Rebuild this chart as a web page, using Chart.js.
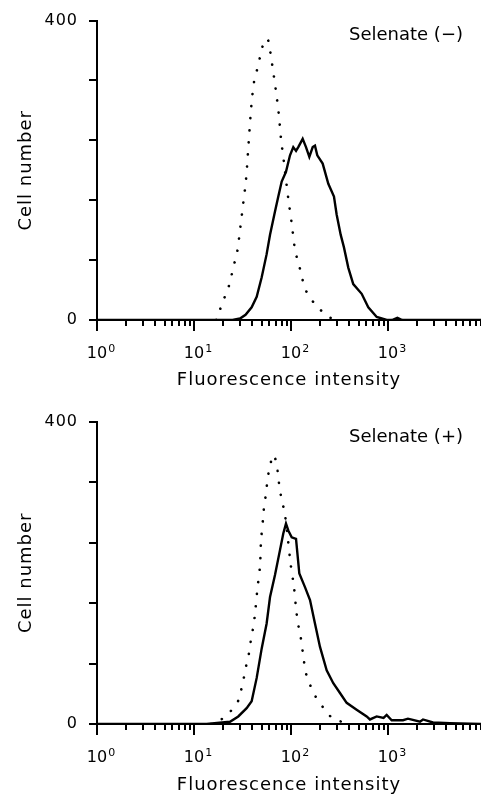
<!DOCTYPE html>
<html>
<head>
<meta charset="utf-8">
<script src="https://cdn.jsdelivr.net/npm/chart.js@4"></script>
<style>
    body { margin: 0; background: #fff; }
    canvas { display: block; }
</style>
</head>
<body>
<canvas id="selenateMinus" width="481" height="401"></canvas>
<canvas id="selenatePlus" width="481" height="401"></canvas>
<script>
// Flow cytometry histograms.
// Dotted = control, solid = stained cells.

// Selenate (-)
const minusControlX = [17, 18.2, 20.2, 22.6, 24.3, 26.0, 27.9, 30.0, 32.2, 34.4, 36.6, 39.0, 41.6, 44.6, 47.9, 51.4, 57.0, 61.2, 64.2, 69.6, 74.7, 78.8, 84.7, 93.8, 101.7, 109.1, 116.1, 125.9, 135.2, 150.8, 186.7, 233, 280];
const minusControlY = [0, 11, 27, 43, 59, 75, 91, 123, 156, 188, 237, 286, 318, 334, 351, 367, 376, 358, 340, 308, 276, 243, 210, 162, 129, 97, 81, 65, 48, 33, 18, 6, 0];

const minusStainedX = [1, 25, 29.8, 34, 39.3, 44.3, 49.9, 56.1, 60.8, 68.4, 74.0, 80.2, 88.8, 97.7, 105.6, 112.7, 118.9, 132.0, 142.8, 154.6, 167.5, 176.7, 186.7, 212.2, 242.6, 277.5, 295.6, 325.2, 351.6, 389.6, 438.5, 535.7, 626.6, 765.6, 970, 1100, 1250, 1400, 9100];
const minusStainedY = [0, 0, 2, 7, 17, 31, 57, 88, 114, 145, 165, 185, 198, 220, 231, 226, 231, 242, 231, 218, 231, 233, 220, 209, 182, 165, 141, 114, 97, 70, 48, 35, 17, 4, 0, 0, 3, 0, 0];

// Selenate (+)
const plusControlX = [15, 17.7, 23.9, 28.9, 31.0, 33.0, 34.9, 37.2, 38.7, 40.8, 42.5, 44.9, 47.9, 49.1, 51.8, 53.1, 55.6, 57.0, 60.3, 65.7, 71.2, 74.0, 77.0, 81.4, 86, 92, 99.3, 107.4, 113.4, 118.1, 125.9, 136.1, 142.8, 157.1, 179.8, 220.3, 277.5, 375, 420];
const plusControlY = [0, 3, 17, 32, 48, 64, 80, 96, 112, 128, 145, 177, 209, 242, 275, 291, 306, 322, 339, 356, 344, 326, 309, 293, 280, 250, 211, 181, 150, 133, 115, 83, 67, 52, 36, 20, 6, 2, 0];

const plusStainedX = [1, 13.5, 23.5, 28.6, 34.9, 39.3, 44.3, 49.9, 56.1, 60.8, 68.4, 77.0, 83.3, 88.8, 93.8, 101.7, 112.7, 121.9, 139.4, 157.1, 176.7, 199.1, 233.3, 273, 320, 375, 475, 603, 652, 765, 900, 970, 1092, 1429, 1607, 2138, 2296, 2911, 4355, 9100];
const plusStainedY = [0, 0, 3, 10, 21, 30, 61, 100, 133, 168, 197, 230, 252, 265, 256, 247, 245, 199, 181, 164, 133, 102, 71, 54, 41, 28, 19, 10, 6, 10, 8, 12, 5, 5, 7, 3, 6, 2, 1, 0];

// axes
const decades = [1, 10, 100, 1000];
const decadeExponents = ['0', '1', '2', '3'];
const minorSteps = [1, 2, 3, 4, 5, 6, 7, 8, 9];
const yLabelled = [0, 400];

const ink = '#000';
const fontFamily = '"DejaVu Sans", sans-serif';

const xTicks = [];
decades.forEach(d => minorSteps.forEach(m => xTicks.push(d * m)));

// the printed figure uses loosely tracked type
const tracking = {
    id: 'tracking',
    beforeDraw(chart, args, opts) {
        chart.ctx.letterSpacing = opts.spacing;
    },
    afterDraw(chart) {
        chart.ctx.letterSpacing = '0px';
    }
};

// tick marks on the log axis (long at decades, short in between)
// and the 10^n labels with a raised exponent
const logAxisMarks = {
    id: 'logAxisMarks',
    afterDraw(chart, args, opts) {
        const scale = chart.scales.x;
        const ctx = chart.ctx;
        ctx.save();
        ctx.letterSpacing = '0px';
        ctx.strokeStyle = opts.color;
        ctx.lineWidth = opts.width;
        scale.ticks.forEach(t => {
            const px = Math.round(scale.getPixelForValue(t.value));
            ctx.beginPath();
            ctx.moveTo(px, scale.top);
            ctx.lineTo(px, scale.top + (t.major ? opts.majorLength : opts.minorLength));
            ctx.stroke();
        });

        ctx.fillStyle = opts.color;
        ctx.textBaseline = 'alphabetic';
        decades.forEach((d, i) => {
            const px = scale.getPixelForValue(d);
            const base = scale.top + opts.baseline;
            ctx.font = opts.size + 'px ' + fontFamily;
            ctx.textAlign = 'center';
            ctx.fillText('10', px, base);
            const half = ctx.measureText('10').width / 2;
            ctx.font = opts.supSize + 'px ' + fontFamily;
            ctx.textAlign = 'left';
            ctx.fillText(decadeExponents[i], px + half + 1, base - opts.supRaise);
        });
        ctx.restore();
    }
};

const cornerLabel = {
    id: 'cornerLabel',
    afterDraw(chart, args, opts) {
        const ctx = chart.ctx;
        ctx.save();
        ctx.letterSpacing = '0px';
        ctx.font = opts.font;
        ctx.fillStyle = opts.color;
        ctx.textAlign = 'right';
        ctx.textBaseline = 'middle';
        ctx.fillText(opts.text, opts.x, opts.y);
        ctx.restore();
    }
};

const toPoints = (xs, ys) => xs.map((x, i) => ({ x, y: ys[i] }));

function histogram(canvasId, label, control, stained, layout) {
    new Chart(document.getElementById(canvasId), {
        type: 'line',
        plugins: [ tracking, logAxisMarks, cornerLabel ],
        data: {
            datasets: [
                {
                    label: 'control',
                    data: control,
                    borderColor: ink,
                    borderWidth: 2.6,
                    borderDash: [ 0.1, 12 ],
                    borderCapStyle: 'round',
                    tension: 0.3,
                    pointRadius: 0,
                },
                {
                    label: 'stained',
                    data: stained,
                    borderColor: ink,
                    borderWidth: 2.4,
                    tension: 0,
                    pointRadius: 0,
                }
            ]
        },
        options: {
            responsive: false,
            animation: false,
            devicePixelRatio: 1,
            layout: {
                padding: { top: layout.top, right: 0, bottom: 0, left: 0 }
            },
            plugins: {
                legend: { display: false },
                tooltip: { enabled: false },
                tracking: { spacing: '1px' },
                logAxisMarks: {
                    color: ink, width: 2, majorLength: 11, minorLength: 6,
                    size: 16, supSize: 11, baseline: 38, supRaise: 6,
                },
                cornerLabel: {
                    text: label,
                    font: '18px ' + fontFamily,
                    color: ink,
                    x: 463,
                    y: layout.labelY,
                },
            },
            scales: {
                x: {
                    type: 'logarithmic',
                    min: 1,
                    max: 9100,
                    afterBuildTicks: scale => {
                        scale.ticks = xTicks.map(v => ({ value: v, major: decades.includes(v) }));
                    },
                    afterFit: scale => {
                        scale.height = layout.xHeight;
                        scale.paddingLeft = 0;
                        scale.paddingRight = 0;
                    },
                    grid: { display: false, drawTicks: false },
                    border: { display: true, color: ink, width: 2 },
                    ticks: { display: false },
                    title: {
                        display: true,
                        text: 'Fluorescence intensity',
                        color: ink,
                        font: { family: fontFamily, size: 18 },
                        padding: { top: 0, bottom: layout.titleBottom },
                    }
                },
                y: {
                    min: 0,
                    max: 400,
                    afterFit: scale => { scale.width = 97; },
                    grid: {
                        drawOnChartArea: false,
                        drawTicks: true,
                        tickLength: 8,
                        color: ink,
                        lineWidth: 2,
                    },
                    border: { display: true, color: ink, width: 2 },
                    ticks: {
                        stepSize: 80,
                        padding: 11,
                        color: ink,
                        font: { family: fontFamily, size: 16 },
                        callback: value => yLabelled.includes(value) ? value : ''
                    },
                    title: {
                        display: true,
                        text: 'Cell number',
                        color: ink,
                        font: { family: fontFamily, size: 18 },
                        padding: { top: 16, bottom: 0 },
                    }
                }
            }
        }
    });
}

histogram('selenateMinus', 'Selenate (\u2212)',
    toPoints(minusControlX, minusControlY),
    toPoints(minusStainedX, minusStainedY),
    { top: 17, xHeight: 81, titleBottom: 10, labelY: 35 });

histogram('selenatePlus', 'Selenate (+)',
    toPoints(plusControlX, plusControlY),
    toPoints(plusStainedX, plusStainedY),
    { top: 20, xHeight: 78, titleBottom: 6, labelY: 36 });
</script>
</body>
</html>
